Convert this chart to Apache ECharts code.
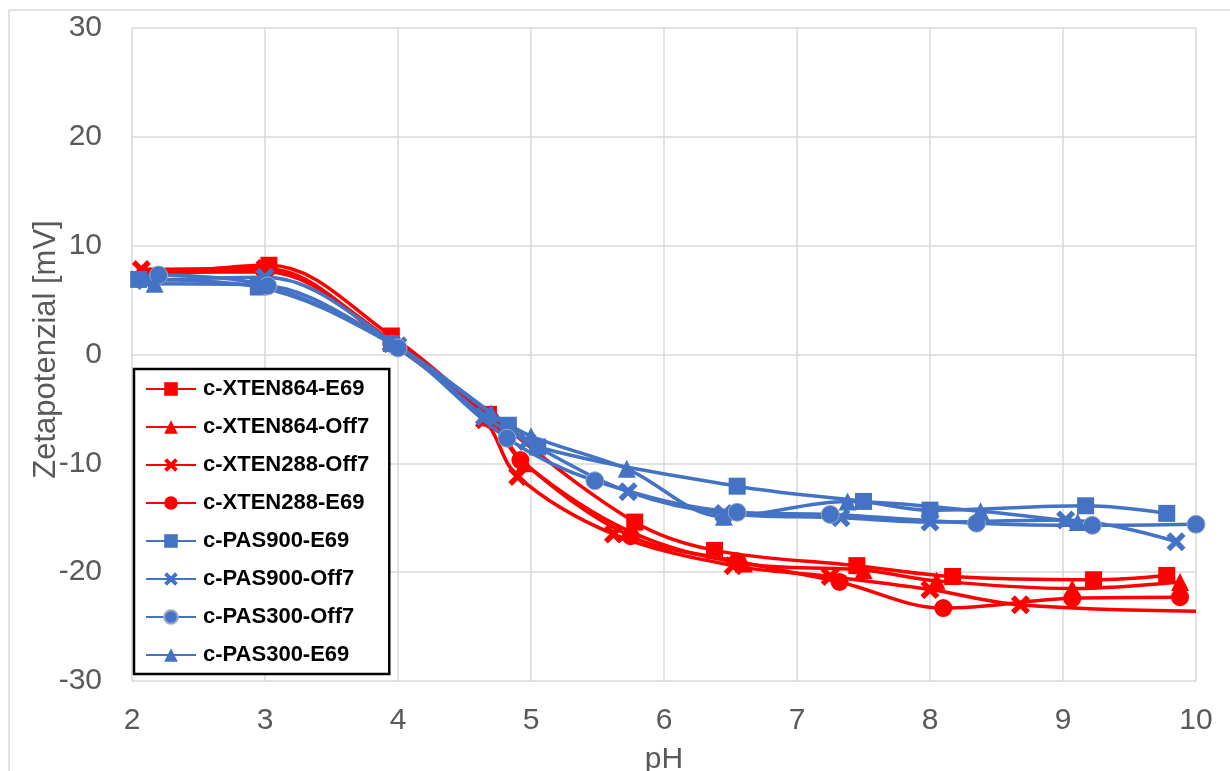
<!DOCTYPE html>
<html>
<head>
<meta charset="utf-8">
<script src="https://cdn.jsdelivr.net/npm/echarts@6/dist/echarts.min.js"></script>
<style>html,body{margin:0;padding:0;background:#fff;}#c{width:1230px;height:771px;}</style>
</head>
<body>
<div id="c"></div>
<script>
// ---- data (pH, zeta potential in mV) ----
const names = ['c-XTEN864-E69','c-XTEN864-Off7','c-XTEN288-Off7','c-XTEN288-E69','c-PAS900-E69','c-PAS900-Off7','c-PAS300-Off7','c-PAS300-E69'];

const xten864E69_pH   = [2.1, 3.03, 3.95, 4.68, 5.78, 6.38, 7.45, 8.17, 9.23, 9.78];
const xten864E69_zeta = [7.2, 8.2, 1.7, -5.5, -15.4, -18.0, -19.4, -20.4, -20.7, -20.3];

const xten864Off7_pH   = [2.1, 3.0, 3.95, 4.7, 4.95, 5.75, 6.6, 7.5, 8.05, 9.07, 9.88];
const xten864Off7_zeta = [7.5, 7.6, 1.3, -5.8, -10.0, -16.3, -19.2, -19.8, -20.8, -21.5, -20.9];

// last point sits on the right plot edge, where the reference shows no marker
const xten288Off7_pH   = [2.07, 3.0, 3.95, 4.65, 4.9, 5.62, 6.52, 7.25, 8.0, 8.68, 10.0];
const xten288Off7_zeta = [7.8, 7.9, 1.0, -6.0, -11.2, -16.5, -19.4, -20.4, -21.6, -23.0, -23.6];

const xten288E69_pH   = [2.2, 3.0, 3.95, 4.7, 4.92, 5.75, 6.55, 7.32, 8.1, 9.07, 9.88];
const xten288E69_zeta = [7.3, 7.8, 1.0, -6.0, -9.7, -16.7, -19.0, -20.9, -23.3, -22.4, -22.3];

const pas900E69_pH   = [2.05, 2.95, 3.95, 4.83, 5.05, 6.55, 7.5, 8.0, 9.17, 9.78];
const pas900E69_zeta = [6.9, 6.2, 1.0, -6.5, -8.5, -12.1, -13.5, -14.3, -13.9, -14.6];

const pas900Off7_pH   = [2.1, 3.0, 4.0, 4.65, 4.97, 5.73, 6.45, 7.33, 8.0, 9.02, 9.85];
const pas900Off7_zeta = [6.8, 7.1, 0.8, -5.7, -8.0, -12.6, -14.6, -15.0, -15.4, -15.2, -17.2];

const pas300Off7_pH   = [2.2, 3.02, 4.0, 4.82, 5.48, 6.55, 7.25, 8.35, 9.22, 10.0];
const pas300Off7_zeta = [7.3, 6.3, 0.6, -7.7, -11.6, -14.5, -14.7, -15.5, -15.7, -15.6];

const pas300E69_pH   = [2.17, 2.95, 3.95, 4.7, 5.0, 5.72, 6.45, 7.38, 8.38, 9.11];
const pas300E69_zeta = [6.5, 6.4, 1.1, -5.4, -7.5, -10.5, -14.9, -13.5, -14.4, -15.4];

const xTicks = [2, 3, 4, 5, 6, 7, 8, 9, 10];
const yTicks = [-30, -20, -10, 0, 10, 20, 30];

const lastPointWithoutMarker = ['c-XTEN288-Off7'];

// ---- build ----
const RED = '#FF0000', BLUE = '#4472C4';
const XSYM = 'path://M2,0 L5,3 L8,0 L10,2 L7,5 L10,8 L8,10 L5,7 L2,10 L0,8 L3,5 L0,2 Z';
function zip(a, b) { return a.map((v, i) => [v, b[i]]); }
const seriesDefs = [
  [xten864E69_pH, xten864E69_zeta, RED, 'rect', 17],
  [xten864Off7_pH, xten864Off7_zeta, RED, 'triangle', 18],
  [xten288Off7_pH, xten288Off7_zeta, RED, XSYM, 19],
  [xten288E69_pH, xten288E69_zeta, RED, 'circle', 18],
  [pas900E69_pH, pas900E69_zeta, BLUE, 'rect', 17],
  [pas900Off7_pH, pas900Off7_zeta, BLUE, XSYM, 19],
  [pas300Off7_pH, pas300Off7_zeta, BLUE, 'circle', 18],
  [pas300E69_pH, pas300E69_zeta, BLUE, 'triangle', 18]
];
const series = seriesDefs.map((d, i) => {
  let data = zip(d[0], d[1]);
  if (lastPointWithoutMarker.indexOf(names[i]) >= 0) {
    const last = data.length - 1;
    data[last] = { value: data[last], symbol: 'none' };
  }
  return {
    name: names[i],
    type: 'line',
    data: data,
    smooth: 0.35,
    clip: true,
    symbol: d[3],
    symbolSize: d[4],
    showAllSymbol: true,
    lineStyle: { color: d[2], width: 3.5 },
    itemStyle: (d[3] === 'circle' && d[2] === BLUE) ? { color: d[2], borderColor: '#9aaac4', borderWidth: 1 } : { color: d[2] },
    emphasis: { disabled: true },
    z: i < 4 ? 2 : 3
  };
});

const chart = echarts.init(document.getElementById('c'), null, { renderer: 'canvas' });
chart.setOption({
  animation: false,
  backgroundColor: '#fff',
  textStyle: { fontFamily: 'Liberation Sans, Arial, sans-serif' },
  grid: { left: 132, right: 34, top: 28, bottom: 90, containLabel: false, outerBoundsMode: 'none' },
  xAxis: {
    type: 'value', min: xTicks[0], max: xTicks[xTicks.length - 1], interval: 1,
    name: 'pH', nameLocation: 'middle', nameGap: 64, nameMoveOverlap: false,
    nameTextStyle: { fontSize: 30, color: '#595959' },
    axisLine: { show: false }, axisTick: { show: false },
    axisLabel: { fontSize: 30, color: '#595959', margin: 25 },
    splitLine: { show: true, lineStyle: { color: '#d9d9d9', width: 1.5 } }
  },
  yAxis: {
    type: 'value', min: yTicks[0], max: yTicks[yTicks.length - 1], interval: 10,
    name: 'Zetapotenzial [mV]', nameLocation: 'middle', nameGap: 70, nameRotate: 90, nameMoveOverlap: false,
    nameTextStyle: { fontSize: 31, color: '#595959', padding: [0, 0, 0, 10] },
    axisLine: { show: false }, axisTick: { show: false },
    axisLabel: { fontSize: 30, color: '#595959', margin: 30 },
    splitLine: { show: true, lineStyle: { color: '#d9d9d9', width: 1.5 } }
  },
  legend: {
    orient: 'vertical', left: 134, top: 369,
    padding: [9, 20, 8, 11],
    itemWidth: 50, itemHeight: 17, itemGap: 16,
    backgroundColor: '#fff', borderColor: '#000', borderWidth: 2.5,
    textStyle: { fontSize: 22, fontWeight: 'bold', color: '#000', padding: [0, 0, 0, 2] },
    data: names
  },
  graphic: [
    { type: 'line', shape: { x1: 9, y1: 10, x2: 1230, y2: 10 }, style: { stroke: '#d9d9d9', lineWidth: 1.5 }, silent: true },
    { type: 'line', shape: { x1: 9, y1: 10, x2: 9, y2: 771 }, style: { stroke: '#d9d9d9', lineWidth: 1.5 }, silent: true }
  ],
  series: series
});
</script>
</body>
</html>
